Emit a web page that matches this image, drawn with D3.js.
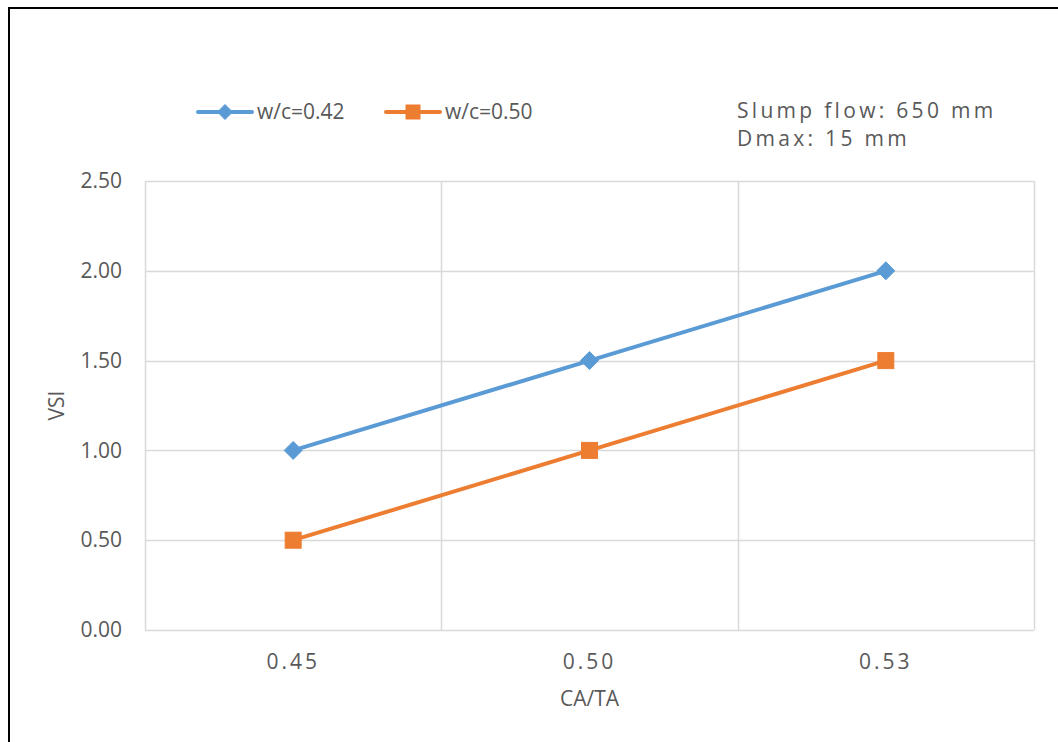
<!DOCTYPE html>
<html>
<head>
<meta charset="utf-8">
<script src="https://cdn.jsdelivr.net/npm/d3@7"></script>
<style>
  html, body { margin: 0; padding: 0; background: #fff; overflow: hidden; }
  svg { display: block; font-family: "Open Sans", "Noto Sans", sans-serif; }
</style>
</head>
<body>
<svg id="chart" width="1058" height="742"></svg>
<script>
// CA/TA ratio categories and VSI values per w/c ratio
const categories = ["0.45", "0.50", "0.53"];
const seriesNames = ["w/c=0.42", "w/c=0.50"];
const vsiWc042 = [1.0, 1.5, 2.0];
const vsiWc050 = [0.5, 1.0, 1.5];
const yTicks = [0, 0.5, 1.0, 1.5, 2.0, 2.5];
const noteLines = ["Slump flow: 650 mm", "Dmax: 15 mm"];

const series = [
  { name: seriesNames[0], values: vsiWc042, color: "#5B9BD5", marker: "diamond" },
  { name: seriesNames[1], values: vsiWc050, color: "#ED7D31", marker: "square" }
];

const svg = d3.select("#chart");
const W = 1058, H = 742;
const plot = { left: 145, right: 1034, top: 181, bottom: 630 };
const textColor = "#595959";
const gridColor = "#D9D9D9";
const fontSize = "21px";

// outer frame (right and bottom edges run off the page)
svg.append("rect")
  .attr("x", 9).attr("y", 8)
  .attr("width", W + 10).attr("height", H + 10)
  .attr("fill", "none").attr("stroke", "#000").attr("stroke-width", 2);

const x = d3.scaleBand().domain(categories).range([plot.left, plot.right]).padding(0);
const y = d3.scaleLinear().domain([0, 2.5]).range([plot.bottom, plot.top]);

// horizontal gridlines
svg.append("g")
  .selectAll("line").data(yTicks).join("line")
  .attr("x1", plot.left).attr("x2", plot.right)
  .attr("y1", d => Math.round(y(d)) + 0.5).attr("y2", d => Math.round(y(d)) + 0.5)
  .attr("stroke", gridColor).attr("stroke-width", 1.5);

// vertical gridlines at category boundaries
const bounds = categories.map(c => x(c)).concat([x(categories[categories.length - 1]) + x.bandwidth()]);
svg.append("g")
  .selectAll("line").data(bounds).join("line")
  .attr("x1", d => Math.round(d) + 0.5).attr("x2", d => Math.round(d) + 0.5)
  .attr("y1", plot.top).attr("y2", plot.bottom)
  .attr("stroke", gridColor).attr("stroke-width", 1.5);

// y axis labels
const yAxis = d3.axisLeft(y).tickValues(yTicks).tickFormat(d3.format(".2f")).tickSize(0).tickPadding(23);
const gy = svg.append("g").attr("transform", `translate(${plot.left},0)`).call(yAxis);
gy.select(".domain").remove();
gy.selectAll("text")
  .attr("fill", textColor).style("font-size", fontSize)
  .style("font-family", "'Open Sans', sans-serif");

// x axis labels
const xAxis = d3.axisBottom(x).tickSize(0).tickPadding(24);
const gx = svg.append("g").attr("transform", `translate(0,${plot.bottom})`).call(xAxis);
gx.select(".domain").remove();
gx.selectAll("text")
  .attr("fill", textColor).style("font-size", fontSize)
  .style("letter-spacing", "3px")
  .style("font-family", "'Open Sans', sans-serif");

// axis titles
svg.append("text")
  .attr("x", x("0.50") + x.bandwidth() / 2).attr("y", 706)
  .attr("text-anchor", "middle").attr("fill", textColor)
  .style("font-size", fontSize).text("CA/TA");

svg.append("text")
  .attr("transform", `translate(64,${(plot.top + plot.bottom) / 2}) rotate(-90)`)
  .attr("text-anchor", "middle").attr("fill", textColor)
  .style("font-size", fontSize).text("VSI");

const line = d3.line()
  .x((d, i) => x(categories[i]) + x.bandwidth() / 2)
  .y(d => y(d));

function drawMarker(g, type, cx, cy, color, size) {
  if (type === "diamond") {
    const r = size / 2;
    g.append("path")
      .attr("d", `M${cx},${cy - r}L${cx + r},${cy}L${cx},${cy + r}L${cx - r},${cy}Z`)
      .attr("fill", color).attr("stroke", color).attr("stroke-width", 1);
  } else {
    g.append("rect")
      .attr("x", cx - size / 2).attr("y", cy - size / 2)
      .attr("width", size).attr("height", size)
      .attr("fill", color).attr("stroke", color).attr("stroke-width", 1);
  }
}

// series lines and markers
series.forEach(s => {
  const g = svg.append("g");
  g.append("path")
    .datum(s.values)
    .attr("d", line)
    .attr("fill", "none").attr("stroke", s.color)
    .attr("stroke-width", 4).attr("stroke-linecap", "round");
  s.values.forEach((v, i) => {
    drawMarker(g, s.marker, x(categories[i]) + x.bandwidth() / 2, y(v), s.color,
      s.marker === "diamond" ? 18 : 16);
  });
});

// legend
const legendItems = [
  { s: series[0], x0: 198 },
  { s: series[1], x0: 386 }
];
const ly = 112;
legendItems.forEach(({ s, x0 }) => {
  const g = svg.append("g");
  g.append("line")
    .attr("x1", x0).attr("x2", x0 + 54).attr("y1", ly).attr("y2", ly)
    .attr("stroke", s.color).attr("stroke-width", 4).attr("stroke-linecap", "round");
  drawMarker(g, s.marker, x0 + 27, ly, s.color, s.marker === "diamond" ? 15 : 14);
  g.append("text")
    .attr("x", x0 + 59).attr("y", 119)
    .attr("fill", textColor).style("font-size", fontSize)
    .text(s.name);
});

// annotation
svg.append("g")
  .selectAll("text").data(noteLines).join("text")
  .attr("x", 737).attr("y", (d, i) => 118 + i * 28)
  .attr("fill", textColor)
  .style("font-size", fontSize).style("letter-spacing", "3.3px")
  .text(d => d);
</script>
</body>
</html>
